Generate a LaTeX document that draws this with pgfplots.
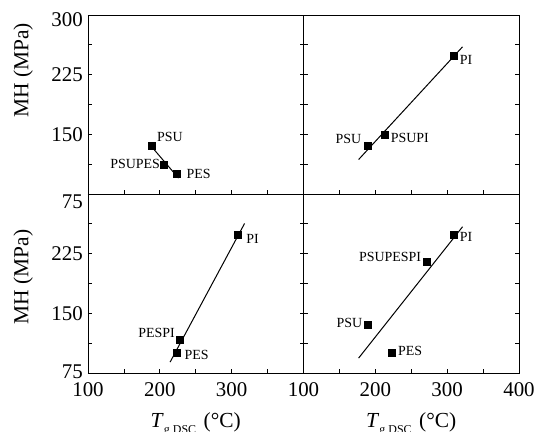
\documentclass[border=0pt]{standalone}
\usepackage{fontspec}
\setmainfont{Liberation Serif}
\usepackage{pgfplots}
\pgfplotsset{compat=1.18}
\usepgfplotslibrary{groupplots}

\newcommand\lbl{\fontsize{14}{16}\selectfont}
\tikzset{pt/.style={inner sep=0pt, font=\lbl}}
% tick label whose digits sit #1 below the tick
\newcommand\shifted[2]{\raisebox{\dimexpr-7bp-#1\relax}[0pt][0pt]{#2}}

\begin{document}
\begin{tikzpicture}
\begin{groupplot}[
  group style={group size=2 by 2, horizontal sep=0pt, vertical sep=0pt, group name=G},
  scale only axis, width=215.5bp, height=179bp,
  xmin=100, xmax=400, ymin=75, ymax=300,
  xtick={100,200,300,400}, minor xtick={150,250,350},
  ytick={75,150,225,300}, minor ytick={112.5,187.5,262.5},
  tick align=inside, xtick pos=lower, ytick pos=both,
  major tick length=4bp, minor tick length=4bp,
  tick style={black, line width=0.7bp},
  axis line style={black, line width=0.8bp},
  tick label style={font=\fontsize{21}{24}\selectfont},
  /pgf/number format/assume math mode=true,
  label style={font=\fontsize{21.5}{24}\selectfont},
  yticklabel style={inner sep=0pt, xshift=-5bp},
  xticklabel style={inner sep=0pt, yshift=-9bp},
  xlabel style={at={(axis description cs:0.5,0)}, anchor=base, yshift=-54bp},
  clip=false,
]
% top left: PSU / PES blend
\nextgroupplot[xticklabels={},
  yticklabels={\shifted{7bp}{75},150,225,\shifted{5bp}{300}},
  ylabel={MH (MPa)}, ylabel style={at={(axis description cs:-0.30,0.69)}, anchor=center}]
\addplot[black, line width=1bp] coordinates {(189,134) (226,95)};
\addplot[only marks, mark=square*, mark size=3.5bp] coordinates {(189,136) (206,112) (223,101)};
\node[pt, anchor=base west, xshift=5bp, yshift=4bp] at (axis cs:189,136) {PSU};
\node[pt, anchor=base east, xshift=-4bp, yshift=-4bp] at (axis cs:206,112) {PSUPES};
\node[pt, anchor=base west, xshift=10bp, yshift=-5bp] at (axis cs:223,101) {PES};

% top right: PSU / PI blend
\nextgroupplot[xticklabels={}, yticklabels={}]
\addplot[black, line width=1bp] coordinates {(176.7,118.3) (321.4,260)};
\addplot[only marks, mark=square*, mark size=3.5bp] coordinates {(189,136) (213,149) (309,249)};
\node[pt, anchor=base east, xshift=-6bp, yshift=2bp] at (axis cs:189,136) {PSU};
\node[pt, anchor=base west, xshift=6bp, yshift=-7bp] at (axis cs:213,149) {PSUPI};
\node[pt, anchor=base west, xshift=6bp, yshift=-9bp] at (axis cs:309,249) {PI};

% bottom left: PES / PI blend
\nextgroupplot[xticklabels={100,200,300,{}},
  yticklabels={\shifted{-2bp}{75},150,225,{}},
  ylabel={MH (MPa)}, ylabel style={at={(axis description cs:-0.30,0.536)}, anchor=center},
  xlabel={\textit{T}\raisebox{-6bp}{\fontsize{12}{12}\selectfont g DSC}\hspace{0.35em}(°C)}]
\coordinate (O) at (rel axis cs:0,0);
\addplot[black, line width=1bp] coordinates {(214.3,88.7) (318,263)};
\addplot[only marks, mark=square*, mark size=3.5bp] coordinates {(223,101) (228,116.5) (309,249)};
\node[pt, anchor=base west, xshift=8bp, yshift=-9bp] at (axis cs:309,249) {PI};
\node[pt, anchor=base east, xshift=-5bp, yshift=2bp] at (axis cs:228,116.5) {PESPI};
\node[pt, anchor=base west, xshift=8bp, yshift=-7bp] at (axis cs:223,101) {PES};

% bottom right: ternary blend
\nextgroupplot[xticklabels={100,200,300,400}, yticklabels={},
  xlabel={\textit{T}\raisebox{-6bp}{\fontsize{12}{12}\selectfont g DSC}\hspace{0.35em}(°C)}]
\addplot[black, line width=1bp] coordinates {(176.7,93.7) (321.4,258.8)};
\addplot[only marks, mark=square*, mark size=3.5bp] coordinates {(189,136) (223,101) (271,215) (309,249)};
\node[pt, anchor=base west, xshift=6bp, yshift=-6.5bp] at (axis cs:309,249) {PI};
\node[pt, anchor=base east, xshift=-5bp, yshift=0bp] at (axis cs:271,215) {PSUPESPI};
\node[pt, anchor=base east, xshift=-5bp, yshift=-3bp] at (axis cs:189,136) {PSU};
\node[pt, anchor=base west, xshift=6bp, yshift=-3bp] at (axis cs:223,101) {PES};
\end{groupplot}
\pgfresetboundingbox
\path[use as bounding box] ([shift={(-88bp,-59bp)}]O) rectangle ++(536bp,432bp);
\end{tikzpicture}
\end{document}
